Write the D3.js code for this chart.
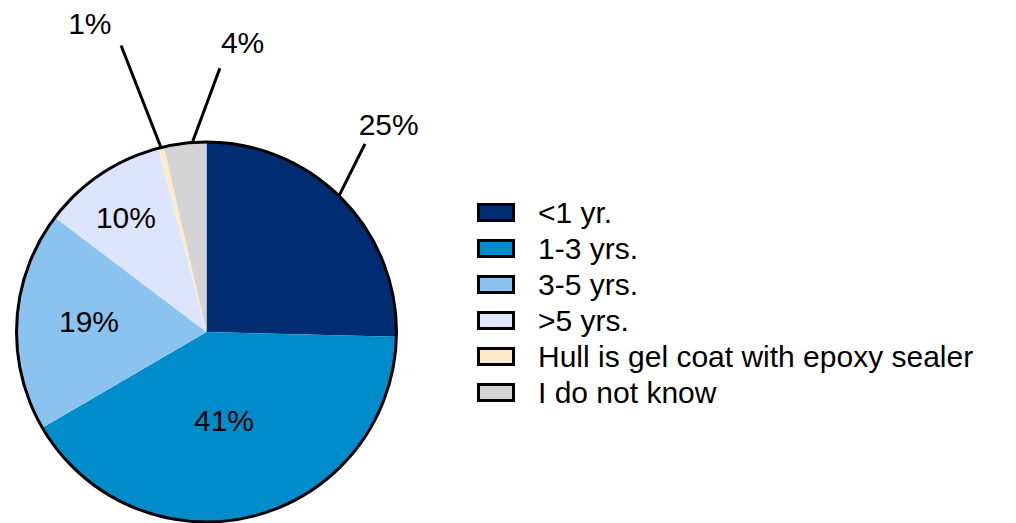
<!DOCTYPE html>
<html><head><meta charset="utf-8">
<script src="https://cdn.jsdelivr.net/npm/d3@7"></script>
<style>html,body{margin:0;padding:0;background:#fff;}svg{display:block;font-family:"Liberation Sans",Arial,sans-serif;}</style>
</head><body>
<svg id="c" width="1016" height="523"></svg>
<script>
// Data
const categories = ["<1 yr.", "1-3 yrs.", "3-5 yrs.", ">5 yrs.", "Hull is gel coat with epoxy sealer", "I do not know"];
const values = [25.4, 41.2, 18.7, 10.6, 0.5, 3.6];
const valueLabels = ["25%", "41%", "19%", "10%", "1%", "4%"];
const colors = ["#002D72", "#008CCB", "#8AC2F0", "#DCE5FC", "#FFEBCB", "#D4D4D4"];

// Layout (label placement, not data)
const labelPlacement = [
  {outside: true, lineAngle: 40.1, lineR: 246, textAngle: 41.3, textR: 276, startDa: -1.5},
  {outside: false, r: 90, da: 3.2},
  {outside: false, r: 118, da: 1.7},
  {outside: false, r: 140, da: -1.3},
  {outside: true, lineAngle: -16.6, lineR: 299, textAngle: -20.7, textR: 330, startDa: 0},
  {outside: true, lineAngle: 2.9, lineR: 264, textAngle: 7.1, textR: 292, startDa: 2.2}
];

const svg = d3.select("#c");
const cx = 206.5, cy = 332, R = 190;
const fs = 30;
const g = svg.append("g").attr("transform", `translate(${cx},${cy})`);

const pie = d3.pie().sort(null).value(d => d)(values);
const arc = d3.arc().innerRadius(0).outerRadius(R);

g.selectAll("path.slice").data(pie).join("path")
  .attr("class", "slice")
  .attr("d", arc)
  .attr("fill", (d, i) => colors[i]);

g.append("circle").attr("r", R).attr("fill", "none").attr("stroke", "#000").attr("stroke-width", 3);

const rad = a => a * Math.PI / 180;
const pt = (angDeg, r) => [r * Math.sin(rad(angDeg)), -r * Math.cos(rad(angDeg))];

pie.forEach((d, i) => {
  const p = labelPlacement[i];
  const midDeg = (d.startAngle + d.endAngle) / 2 * 180 / Math.PI;
  if (p.outside) {
    const s = pt(midDeg + p.startDa, R);
    const e = pt(p.lineAngle, p.lineR);
    g.append("line").attr("x1", s[0]).attr("y1", s[1]).attr("x2", e[0]).attr("y2", e[1])
      .attr("stroke", "#000").attr("stroke-width", 3);
    const t = pt(p.textAngle, p.textR);
    g.append("text").attr("x", t[0]).attr("y", t[1]).attr("dy", "0.35em")
      .attr("text-anchor", "middle").attr("font-size", fs).attr("fill", "#000").text(valueLabels[i]);
  } else {
    const t = pt(midDeg + p.da, p.r);
    g.append("text").attr("x", t[0]).attr("y", t[1]).attr("dy", "0.35em")
      .attr("text-anchor", "middle").attr("font-size", fs).attr("fill", "#000").text(valueLabels[i]);
  }
});

// Legend
const lg = svg.append("g").attr("transform", "translate(477,212.5)");
const rowH = 36;
const items = lg.selectAll("g").data(categories).join("g")
  .attr("transform", (d, i) => `translate(0,${i * rowH})`);
items.append("rect").attr("x", 1.5).attr("y", -8).attr("width", 35).attr("height", 16)
  .attr("fill", (d, i) => colors[i]).attr("stroke", "#000").attr("stroke-width", 3);
items.append("text").attr("x", 61).attr("y", 0).attr("dy", "0.35em")
  .attr("font-size", fs).attr("fill", "#000").text(d => d);
</script>
</body></html>
